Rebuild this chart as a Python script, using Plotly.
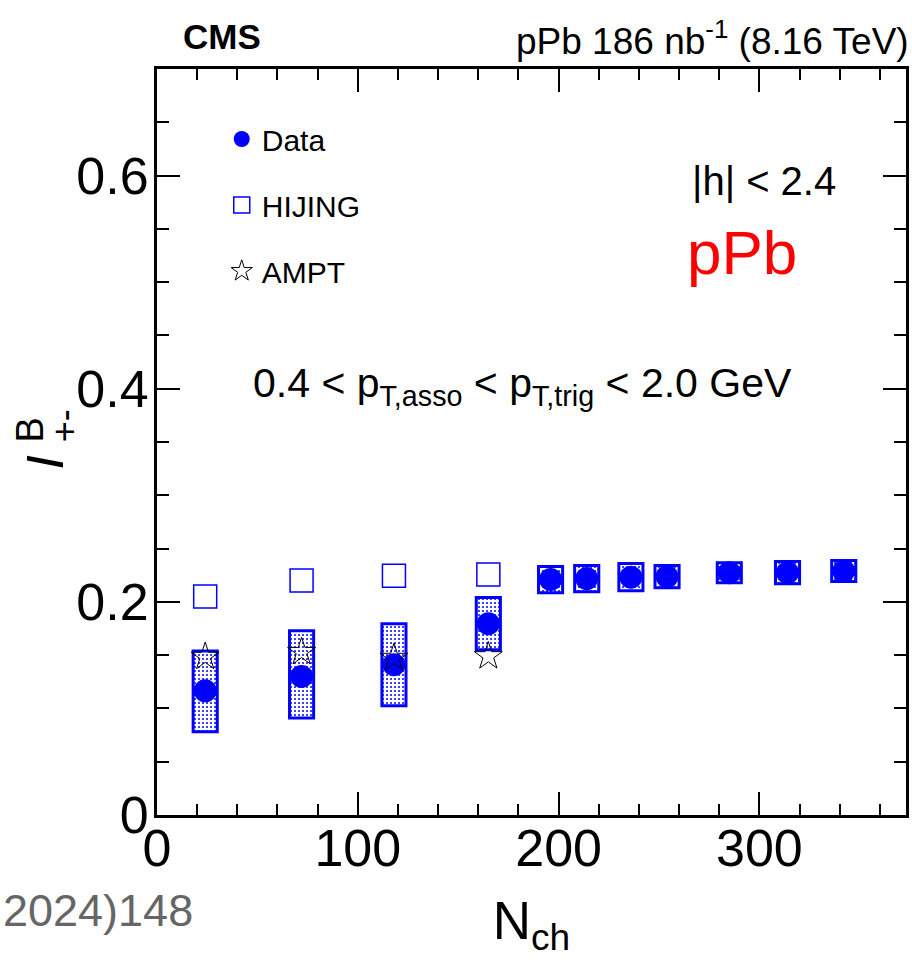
import plotly.graph_objects as go

# ---------------- data ----------------
nch_low = [24, 72, 118, 165]
nch_high = [196, 214, 236, 254, 285, 314, 342]
nch_data = nch_low + nch_high

data_val = [0.1165, 0.130, 0.141, 0.1795, 0.221, 0.2218, 0.2232, 0.2237, 0.2274, 0.2274, 0.2289]
sys_low = [0.078, 0.091, 0.1025, 0.155, 0.2086, 0.2096, 0.2105, 0.2133, 0.218, 0.2171, 0.219]
sys_high = [0.154, 0.173, 0.1795, 0.204, 0.2331, 0.234, 0.2359, 0.234, 0.2368, 0.2378, 0.2387]

hijing_val = [0.205, 0.220, 0.2246, 0.2256]
ampt_val = [0.1485, 0.153, 0.1475, 0.149]

x_ticks = [0, 100, 200, 300]
y_ticks = [0, 0.2, 0.4, 0.6]

FONT = "Liberation Sans, Arial, sans-serif"
BLUE = "#0000ff"

# figure geometry (pixels)
W, H = 912, 961
L, R, T, B = 157, 3, 69, 146
PW, PH = W - L - R, H - T - B


def px(xp):
    return (xp - L) / PW


def py(yp):
    return (H - B - yp) / PH


fig = go.Figure()

# systematic boxes
fig.add_trace(go.Bar(
    x=nch_data,
    y=[h - l for h, l in zip(sys_high, sys_low)],
    base=sys_low,
    width=12,
    marker=dict(color="white", line=dict(color=BLUE, width=3),
                pattern=dict(shape=".", fgcolor=BLUE, bgcolor="white",
                             size=4, solidity=0.2, fillmode="replace")),
    showlegend=False, hoverinfo="skip",
))

fig.add_trace(go.Scatter(
    x=nch_data, y=data_val, mode="markers", name="Data",
    marker=dict(symbol="circle", size=23, color=BLUE, line=dict(width=0)),
    legendgroup="a",
))
fig.add_trace(go.Scatter(
    x=nch_low, y=hijing_val, mode="markers", name="HIJING",
    marker=dict(symbol="square-open", size=23, color=BLUE, line=dict(width=1.5, color=BLUE)),
    legendgroup="b",
))
fig.add_trace(go.Scatter(
    x=nch_low, y=ampt_val, mode="markers", name="AMPT",
    marker=dict(symbol="star-open", size=21, color="black", line=dict(width=1, color="black")),
    legendgroup="c",
))

axis_common = dict(
    showline=True, linecolor="black", linewidth=3, mirror="ticks",
    ticks="inside", tickwidth=2, tickcolor="black", ticklen=23,
    showgrid=False, zeroline=False,
    tickfont=dict(family=FONT, size=52, color="black"),
)

fig.update_xaxes(
    range=[0, 373], tickvals=x_ticks, ticktext=[str(v) for v in x_ticks],
    ticklabelstandoff=-14,
    minor=dict(ticks="inside", ticklen=11, tickwidth=1.5, dtick=20, tick0=0, tickcolor="black"),
    title=dict(text="N<sub>ch</sub>", font=dict(family=FONT, size=53, color="black"), standoff=26),
    **axis_common,
)
fig.update_yaxes(
    range=[0, 0.7], tickvals=y_ticks, ticktext=["0", "0.2", "0.4", "0.6"],
    ticklabelstandoff=-5,
    minor=dict(ticks="inside", ticklen=12, tickwidth=1.5, dtick=0.05, tick0=0, tickcolor="black"),
    **axis_common,
)

annotations = [
    dict(text="<b>CMS</b>", x=px(222), y=py(36), xanchor="center", yanchor="middle",
         font=dict(family=FONT, size=35, color="black")),
    dict(text="pPb 186 nb<sup>-1</sup> (8.16 TeV)", x=px(914), y=py(38), xanchor="right", yanchor="middle",
         font=dict(family=FONT, size=37, color="black")),
    dict(text="|h| < 2.4", x=px(766), y=py(181), xanchor="center", yanchor="middle",
         font=dict(family=FONT, size=40, color="black")),
    dict(text="pPb", x=px(744), y=py(252), xanchor="center", yanchor="middle",
         font=dict(family=FONT, size=62, color="red")),
    dict(text="0.4 < p<sub>T,asso</sub> < p<sub>T,trig</sub> < 2.0 GeV", x=px(524), y=py(386),
         xanchor="center", yanchor="middle", font=dict(family=FONT, size=41, color="black")),
    # y-axis title pieces
    dict(text="<i>I</i>", x=px(45), y=py(462), xanchor="center", yanchor="middle", textangle=-90,
         font=dict(family=FONT, size=52, color="black")),
    dict(text="B", x=px(29), y=py(430), xanchor="center", yanchor="middle", textangle=-90,
         font=dict(family=FONT, size=38, color="black")),
    dict(text="+-", x=px(64), y=py(426), xanchor="center", yanchor="middle", textangle=-90,
         font=dict(family=FONT, size=36, color="black")),
    # cut-off text from neighbouring panel
    dict(text="2024)148", x=px(195), y=py(910), xanchor="right", yanchor="middle",
         font=dict(family=FONT, size=45, color="#666666")),
]
for a in annotations:
    a.update(xref="paper", yref="paper", showarrow=False)

fig.update_layout(
    width=W, height=H,
    margin=dict(l=L, r=R, t=T, b=B, pad=0),
    paper_bgcolor="white", plot_bgcolor="white",
    barmode="overlay",
    font=dict(family=FONT, color="black"),
    annotations=annotations,
    legend=dict(x=px(222), y=py(113), xanchor="left", yanchor="top",
                font=dict(family=FONT, size=30, color="black"),
                bgcolor="rgba(0,0,0,0)", tracegroupgap=24, itemsizing="trace"),
)

fig.write_html("out.html")
